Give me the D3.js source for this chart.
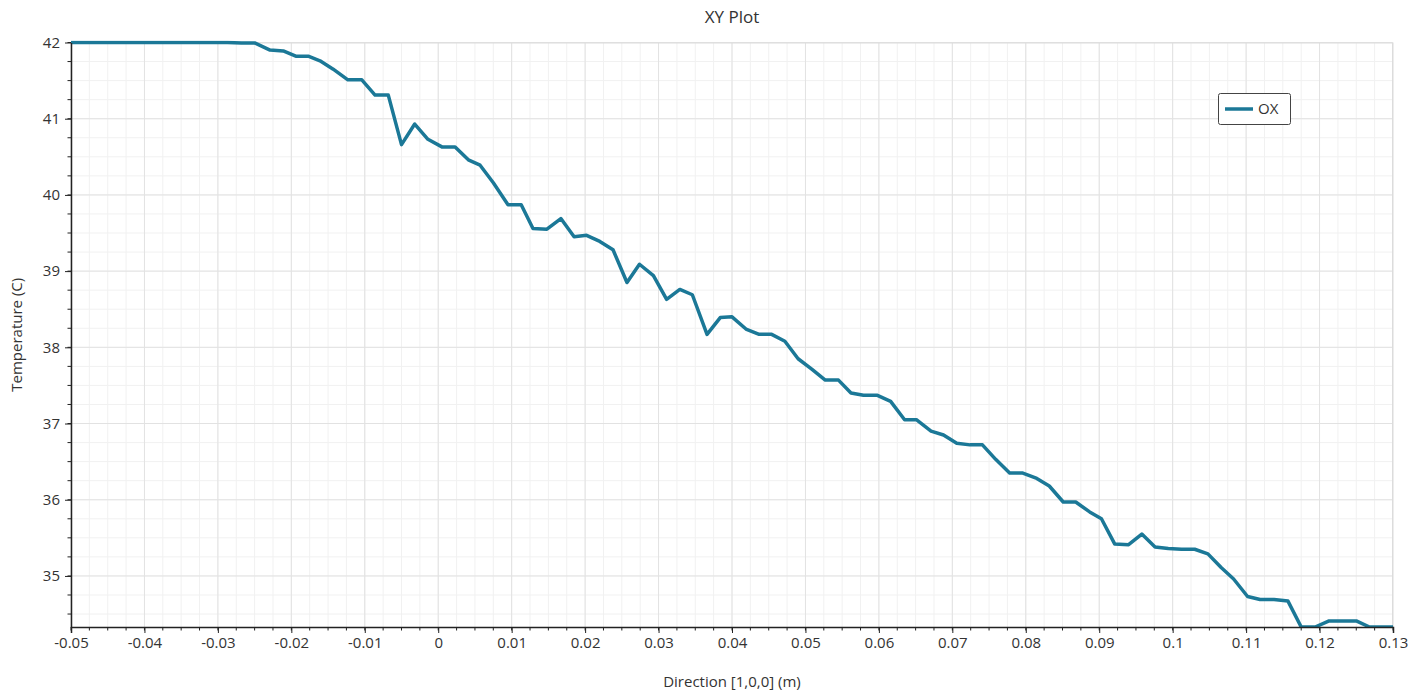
<!DOCTYPE html>
<html>
<head>
<meta charset="utf-8">
<title>XY Plot</title>
<script src="https://cdn.jsdelivr.net/npm/d3@7"></script>
<style>
  body { margin: 0; background: #fff; }
  svg text { font-family: "Open Sans", "Noto Sans", sans-serif; fill: #333; }
  .axis path, .axis line { stroke: #222; }
  .axis text { font-size: 15px; fill: #333; font-family: "Open Sans", "Noto Sans", sans-serif; }
</style>
</head>
<body>
<svg id="plot" width="1425" height="694"></svg>
<script>
// data
var seriesName = "OX";
var positions = [
  -0.05, -0.0287, -0.0268, -0.025, -0.0229, -0.0211, -0.0194, -0.0177, -0.0161, -0.0143,
  -0.0123, -0.0104, -0.0086, -0.0068, -0.0050, -0.0032, -0.0014, 0.0005, 0.0023, 0.0041,
  0.0057, 0.0075, 0.0095, 0.0113, 0.0129, 0.0148, 0.0167, 0.0185, 0.0202, 0.0220,
  0.0238, 0.0257, 0.0274, 0.0293, 0.0311, 0.0329, 0.0346, 0.0366, 0.0384, 0.0400,
  0.0419, 0.0437, 0.0454, 0.0472, 0.0490, 0.0509, 0.0527, 0.0545, 0.0562, 0.0579,
  0.0598, 0.0616, 0.0635, 0.0651, 0.0671, 0.0688, 0.0706, 0.0724, 0.0741, 0.0759,
  0.0778, 0.0796, 0.0815, 0.0832, 0.0851, 0.0868, 0.0887, 0.0903, 0.0921, 0.0940,
  0.0958, 0.0976, 0.0994, 0.1012, 0.1030, 0.1048, 0.1066, 0.1083, 0.1102, 0.1119,
  0.1138, 0.1157, 0.1175, 0.1194, 0.1213, 0.1232, 0.1250, 0.1268, 0.13
];
var temperatures = [
  42, 42, 41.995, 41.995, 41.90, 41.89, 41.82, 41.82, 41.76, 41.65,
  41.51, 41.51, 41.31, 41.31, 40.66, 40.93, 40.73, 40.63, 40.63, 40.46,
  40.39, 40.16, 39.87, 39.87, 39.56, 39.55, 39.69, 39.45, 39.47, 39.39,
  39.28, 38.85, 39.09, 38.94, 38.63, 38.76, 38.69, 38.17, 38.39, 38.40,
  38.24, 38.17, 38.17, 38.08, 37.85, 37.71, 37.57, 37.57, 37.40, 37.37,
  37.37, 37.29, 37.05, 37.05, 36.90, 36.85, 36.74, 36.72, 36.72, 36.53,
  36.35, 36.35, 36.28, 36.18, 35.97, 35.97, 35.84, 35.75, 35.42, 35.41,
  35.55, 35.38, 35.36, 35.35, 35.35, 35.29, 35.11, 34.96, 34.73, 34.69,
  34.69, 34.67, 34.33, 34.33, 34.41, 34.41, 34.41, 34.33, 34.33
];
var xTicks = [-0.05, -0.04, -0.03, -0.02, -0.01, 0, 0.01, 0.02, 0.03, 0.04, 0.05, 0.06, 0.07, 0.08, 0.09, 0.1, 0.11, 0.12, 0.13];
var yTicks = [35, 36, 37, 38, 39, 40, 41, 42];
var xDomain = [-0.05, 0.13];
var yDomain = [34.33, 42];

var svg = d3.select("svg#plot"),
  width = +svg.attr("width"),
  height = +svg.attr("height");

var margin = {top: 42.5, right: 32, bottom: 67, left: 71},
  plot_w = width - margin.left - margin.right,
  plot_h = height - margin.top - margin.bottom;

var x = d3.scaleLinear().domain(xDomain).range([0, plot_w]);
var y = d3.scaleLinear().domain(yDomain).range([plot_h, 0]);

// minor positions, 4 per major step
var xMinor = d3.range(0, 73).map(function(i) { return -0.05 + i * 0.0025; });
var yMinor = d3.range(0, 40).map(function(i) { return 42 - i * 0.25; })
  .filter(function(v) { return v >= yDomain[0]; });

var g = svg.append("g")
  .attr("transform", "translate(" + margin.left + "," + margin.top + ")");

// grid
g.append("g").selectAll("line")
  .data(xMinor).enter().append("line")
  .attr("x1", function(d) { return x(d); }).attr("x2", function(d) { return x(d); })
  .attr("y1", 0).attr("y2", plot_h)
  .attr("stroke", "#f1f1f1");
g.append("g").selectAll("line")
  .data(yMinor).enter().append("line")
  .attr("y1", function(d) { return y(d); }).attr("y2", function(d) { return y(d); })
  .attr("x1", 0).attr("x2", plot_w)
  .attr("stroke", "#f1f1f1");
g.append("g").selectAll("line")
  .data(xTicks).enter().append("line")
  .attr("x1", function(d) { return x(d); }).attr("x2", function(d) { return x(d); })
  .attr("y1", 0).attr("y2", plot_h)
  .attr("stroke", "#e2e2e2");
g.append("g").selectAll("line")
  .data(yTicks).enter().append("line")
  .attr("y1", function(d) { return y(d); }).attr("y2", function(d) { return y(d); })
  .attr("x1", 0).attr("x2", plot_w)
  .attr("stroke", "#e2e2e2");

// frame top/right
g.append("path")
  .attr("d", "M0,0.5H" + (plot_w - 0.5) + "V" + plot_h)
  .attr("fill", "none")
  .attr("stroke", "#dcdcdc");

// clip
g.append("clipPath").attr("id", "clip")
  .append("rect").attr("x", 0).attr("y", -2).attr("width", plot_w).attr("height", plot_h + 2);

var pts = positions.map(function(p, i) { return [p, temperatures[i]]; });
var line = d3.line()
  .x(function(d) { return x(d[0]); })
  .y(function(d) { return y(d[1]); });

g.append("path")
  .datum(pts)
  .attr("clip-path", "url(#clip)")
  .attr("d", line)
  .attr("fill", "none")
  .attr("stroke", "#1b7897")
  .attr("stroke-width", 3.5)
  .attr("stroke-linejoin", "round");

// axes (plain hyphen minus, like the original)
var xAxis = g.append("g").attr("class", "axis")
  .attr("transform", "translate(0," + plot_h + ")")
  .call(d3.axisBottom(x).tickValues(xTicks).tickSize(6).tickPadding(4)
    .tickFormat(function(d) { return String(+d.toFixed(2)); }));
xAxis.select(".domain").attr("stroke-width", 1.5);
xAxis.selectAll(".xminor")
  .data(xMinor).enter().append("line")
  .attr("class", "xminor")
  .attr("x1", function(d) { return x(d); }).attr("x2", function(d) { return x(d); })
  .attr("y1", 0).attr("y2", 3.5);

var yAxis = g.append("g").attr("class", "axis")
  .call(d3.axisLeft(y).tickValues(yTicks).tickSize(6).tickPadding(5).tickSizeOuter(0)
    .tickFormat(function(d) { return String(d); }));
yAxis.select(".domain").attr("stroke-width", 1.5);
yAxis.selectAll(".yminor")
  .data(yMinor).enter().append("line")
  .attr("class", "yminor")
  .attr("y1", function(d) { return y(d); }).attr("y2", function(d) { return y(d); })
  .attr("x1", 0).attr("x2", -3.5);

// titles
svg.append("text")
  .attr("x", margin.left + plot_w / 2)
  .attr("y", 23)
  .attr("text-anchor", "middle")
  .style("font-size", "17px")
  .text("XY Plot");

svg.append("text")
  .attr("x", margin.left + plot_w / 2)
  .attr("y", 687)
  .attr("text-anchor", "middle")
  .style("font-size", "15px")
  .text("Direction [1,0,0] (m)");

svg.append("text")
  .attr("transform", "translate(22," + (margin.top + plot_h / 2) + ")rotate(-90)")
  .attr("text-anchor", "middle")
  .style("font-size", "15px")
  .text("Temperature (C)");

// legend
var lg = svg.append("g").attr("transform", "translate(1218,93)");
lg.append("rect")
  .attr("x", 0.5).attr("y", 0.5)
  .attr("width", 72).attr("height", 31)
  .attr("rx", 2)
  .attr("fill", "#fff")
  .attr("stroke", "#444");
lg.append("line")
  .attr("x1", 7).attr("x2", 35)
  .attr("y1", 16).attr("y2", 16)
  .attr("stroke", "#1b7897")
  .attr("stroke-width", 3.5);
lg.append("text")
  .attr("x", 40).attr("y", 21)
  .style("font-size", "15px")
  .text(seriesName);
</script>
</body>
</html>
